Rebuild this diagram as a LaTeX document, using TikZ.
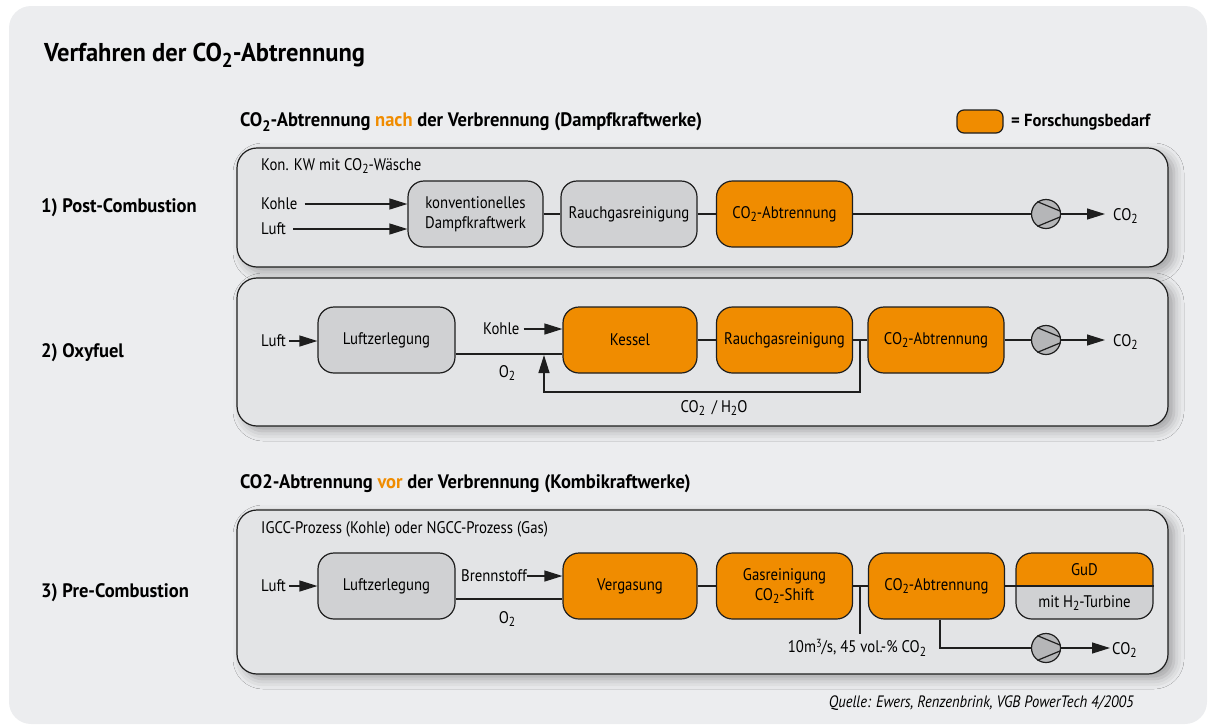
\documentclass[tikz,border=0pt]{standalone}
\usepackage{fontspec}
\usepackage{graphicx}
\setmainfont{PT Sans}[FakeStretch=0.88, BoldFeatures={FakeStretch=0.95}, ItalicFeatures={FakeStretch=0.88}]
\usetikzlibrary{arrows.meta,shadows.blur,calc}
\definecolor{bgc}{HTML}{ECEDEF}
\definecolor{panelc}{HTML}{E3E4E6}
\definecolor{boxg}{HTML}{D0D1D3}
\definecolor{orng}{HTML}{F08C00}
\definecolor{pumpc}{HTML}{B5B6B8}
\definecolor{ln}{HTML}{1E1E1E}
\newcommand{\sbt}[1]{\raisebox{-0.45ex}{\scalebox{0.78}{#1}}}
\newcommand{\spt}[1]{\raisebox{0.6ex}{\scalebox{0.7}{#1}}}
\tikzset{
  panel/.style={draw=ln, line width=1.2pt, fill=panelc, rounded corners=20pt,
    blur shadow={shadow xshift=6pt, shadow yshift=-5pt, shadow blur radius=10pt, shadow opacity=32}},
  box/.style={draw=ln, line width=1.2pt, rounded corners=16pt, minimum height=66pt,
    minimum width=136pt, align=center, inner sep=2pt, font=\fontsize{16.8}{20}\selectfont},
  gbox/.style={box, fill=boxg},
  obox/.style={box, fill=orng},
  lbl/.style={font=\fontsize{16.8}{19}\selectfont, inner sep=0pt},
  hdr/.style={font=\bfseries\fontsize{19.5}{21}\selectfont, inner sep=0pt, anchor=west},
  sec/.style={font=\bfseries\fontsize{19.5}{21}\selectfont, inner sep=0pt, anchor=west},
  conn/.style={draw=ln, line width=1.2pt},
  arr/.style={conn, -{Triangle[length=18pt,width=11pt]}},
  pumpc/.style={circle, draw=ln, line width=1.2pt, fill=pumpc, minimum size=29pt, inner sep=0pt},
}
\newcommand{\pumplines}[1]{\draw[conn] (#1.125) -- (#1.10); \draw[conn] (#1.235) -- (#1.-10);}
\begin{document}
\begin{tikzpicture}[x=1pt,y=-1pt]
\useasboundingbox (0,0) rectangle (1208,724);
\fill[bgc, rounded corners=22pt] (9,6) rectangle (1207,724);

% title and headings
\node[anchor=west, inner sep=0pt, font=\bfseries\fontsize{25.8}{27}\selectfont] (title) at (44,55) {Verfahren der CO\sbt{2}-Abtrennung};
\node[hdr] (h1) at (240,122) {CO\sbt{2}-Abtrennung \textcolor{orng}{nach} der Verbrennung (Dampfkraftwerke)};
\node[draw=ln, line width=1.2pt, fill=orng, rounded corners=7pt, minimum width=46pt, minimum height=23pt, inner sep=0pt] (leg) at (980,121.5) {};
\node[hdr, font=\bfseries\fontsize{17.5}{20}\selectfont] (legt) at (1011,122) {= Forschungsbedarf};
\node[hdr] (h2) at (240,484) {CO2-Abtrennung \textcolor{orng}{vor} der Verbrennung (Kombikraftwerke)};

\node[sec] (s1) at (41,208) {1) Post-Combustion};
\node[sec] (s2) at (41,353) {2) Oxyfuel};
\node[sec] (s3) at (41,593) {3) Pre-Combustion};

% panels
\path[panel] (237,148) rectangle (1168,267);
\path[panel] (237,278) rectangle (1168,426);
\path[panel] (237,510) rectangle (1168,674);

% ---------- Panel 1
\node[lbl, anchor=west] (t1) at (261,166) {Kon. KW mit CO\sbt{2}-Wäsche};
\node[lbl, anchor=west] (kohle1) at (261,204) {Kohle};
\node[lbl, anchor=west] (luft1) at (261,229) {Luft};
\node[gbox, minimum width=135pt] (kdk) at (475.5,214) {konventionelles\\Dampfkraftwerk};
\node[gbox] (rg1) at (629,214) {Rauchgasreinigung};
\node[obox] (ca1) at (784.5,214) {CO\sbt{2}-Abtrennung};
\node[pumpc] (p1) at (1046,214) {};
\pumplines{p1}
\node[lbl, anchor=west] (out1) at (1113,216) {CO\sbt{2}};
\draw[arr] ([xshift=7pt]kohle1.east) -- (kohle1 -| kdk.west);
\draw[arr] ([xshift=7pt]luft1.east) -- (luft1 -| kdk.west);
\draw[conn] (kdk) -- (rg1);
\draw[conn] (rg1) -- (ca1);
\draw[conn] (ca1) -- (p1);
\draw[arr, shorten >=8pt] (p1) -- (out1.west |- p1);

% ---------- Panel 2
\node[lbl, anchor=west] (luft2) at (261,341) {Luft};
\node[gbox, minimum width=137pt] (lz2) at (386.5,340) {Luftzerlegung};
\node[obox, minimum width=134pt] (kessel) at (630,340) {Kessel};
\node[obox] (rg2) at (784.5,340) {Rauchgasreinigung};
\node[obox] (ca2) at (936,340) {CO\sbt{2}-Abtrennung};
\node[pumpc] (p2) at (1046,340) {};
\pumplines{p2}
\node[lbl, anchor=west] (out2) at (1113,342) {CO\sbt{2}};
\draw[arr] ([xshift=3pt]luft2.east) -- (luft2 -| lz2.west);
\coordinate (o2y) at (0,354);
\draw[conn] (lz2.east |- o2y) -- (kessel.west |- o2y);
\node[lbl] (o2b) at (507,373) {O\sbt{2}};
\node[lbl, anchor=west] (kohle2) at (483,329) {Kohle};
\draw[arr] ([xshift=4pt]kohle2.east) -- (kohle2 -| kessel.west);
\draw[conn] (kessel) -- (rg2);
\draw[conn] (rg2) -- (ca2);
\draw[conn] (ca2) -- (p2);
\draw[arr, shorten >=8pt] (p2) -- (out2.west |- p2);
\coordinate (fb) at (860,340);
\coordinate (fbb) at (544,392);
\coordinate (fbt) at (544,355);
\draw[arr] (fb) |- (fbb) -- (fbt);
\node[lbl] (fbl) at (714,408) {CO\sbt{2}\, / H\sbt{2}O};

% ---------- Panel 3
\node[lbl, anchor=west] (t3) at (261,529) {IGCC-Prozess (Kohle) oder NGCC-Prozess (Gas)};
\node[lbl, anchor=west] (luft3) at (261,586) {Luft};
\node[gbox, minimum width=137pt] (lz3) at (386.5,586) {Luftzerlegung};
\node[obox, minimum width=134pt] (verg) at (630,586) {Vergasung};
\node[obox] (gr3) at (784.5,586) {Gasreinigung\\CO\sbt{2}-Shift};
\node[obox] (ca3) at (936.5,586) {CO\sbt{2}-Abtrennung};
\node[box, fill=boxg, minimum width=137pt,
  path picture={\fill[orng, sharp corners] (path picture bounding box.north west) rectangle (path picture bounding box.east);}] (gud) at (1084.5,586) {};
\draw[conn] (gud.west) -- (gud.east);
\node[lbl] (gudt) at (1084.5,570) {GuD};
\node[lbl] (gudb) at (1084.5,603) {mit H\sbt{2}-Turbine};
\draw[arr] ([xshift=3pt]luft3.east) -- (luft3 -| lz3.west);
\node[lbl, anchor=west] (brenn) at (461,576) {Brennstoff};
\draw[arr] (brenn.east) -- (brenn -| verg.west);
\coordinate (o3y) at (0,599);
\draw[conn] (lz3.east |- o3y) -- (verg.west |- o3y);
\node[lbl] (o3b) at (507,619) {O\sbt{2}};
\draw[conn] (verg) -- (gr3);
\draw[conn] (gr3) -- (ca3);
\draw[conn] (ca3) -- (gud);
\coordinate (v3) at (860,586);
\coordinate (v3b) at (860,634);
\draw[conn] (v3) -- (v3b);
\node[lbl] (flow) at (857,648) {10m\spt{3}/s, 45 vol.-\% CO\sbt{2}};
\node[pumpc] (p3) at (1046,648) {};
\pumplines{p3}
\node[lbl, anchor=west] (out3) at (1112,650) {CO\sbt{2}};
\draw[conn] ([xshift=3.5pt]ca3.south) |- (p3);
\draw[arr, shorten >=2pt] (p3) -- (out3.west |- p3);

\node[anchor=east, inner sep=0pt, font=\itshape\fontsize{16.5}{18}\selectfont] (src) at (1134,703) {Quelle: Ewers, Renzenbrink, VGB PowerTech 4/2005};
\end{tikzpicture}
\end{document}
